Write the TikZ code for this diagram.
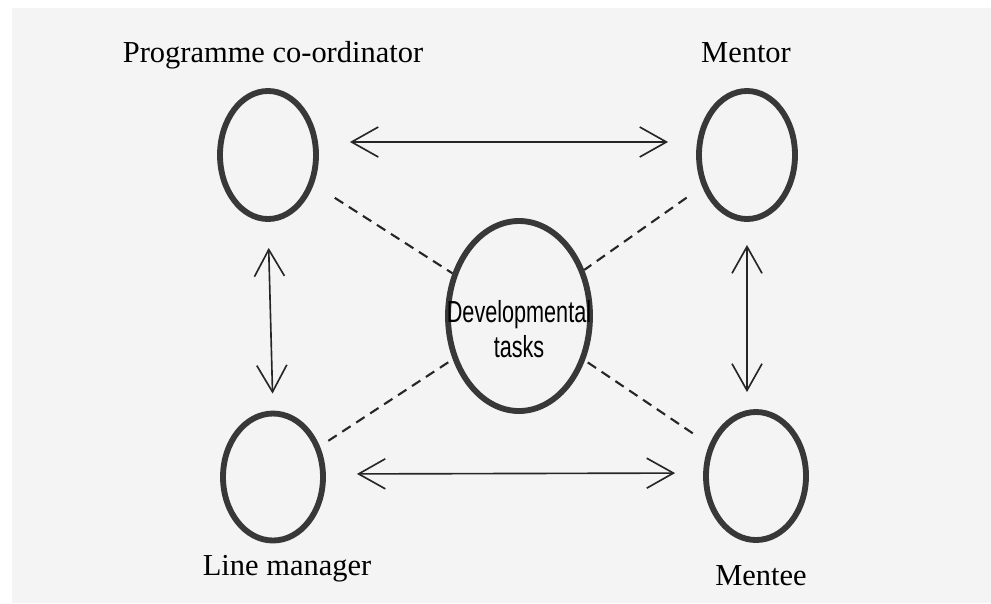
\documentclass[tikz,border=0pt]{standalone}
\usepackage{fontspec}
\setmainfont{Liberation Serif}
\newfontfamily\devfont{Liberation Sans}
\usetikzlibrary{arrows.meta,shapes.geometric}
\definecolor{ink}{HTML}{383838}
\definecolor{page}{HTML}{F4F4F4}
\begin{document}
\begin{tikzpicture}[x=0.03cm,y=-0.03cm,
  role/.style={draw=ink, line width=5pt, ellipse, inner sep=0pt},
  lbl/.style={anchor=base, font=\fontsize{26}{30}\selectfont, text=black, inner sep=0pt},
  devtxt/.style={align=center, font=\devfont\fontsize{26}{30}\selectfont, text=black, inner sep=0pt},
  rel/.style={draw=black!85, line width=1.4pt,
    {Straight Barb[length=0.8cm,width=0.9cm]}-{Straight Barb[length=0.8cm,width=0.9cm]}},
  link/.style={draw=black!85, line width=1.8pt, dash pattern=on 0.3cm off 0.2cm}]
\useasboundingbox (0,0) rectangle (991,603);
\fill[white] (0,0) rectangle (991,603);
\fill[page] (12,8) rectangle (991,603);

% circles
\node[role, minimum width=2.88cm, minimum height=3.84cm] (pc) at (268,155) {};
\node[role, minimum width=2.88cm, minimum height=3.84cm] (mentor) at (747,155) {};
\node[role, minimum width=3.0cm, minimum height=3.81cm] (lm) at (273,477) {};
\node[role, minimum width=3.0cm, minimum height=3.84cm] (mentee) at (756,476) {};
\node[role, minimum width=4.26cm, minimum height=5.70cm] (dev) at (519,316) {};
\node[devtxt] (devlbl) at ([yshift=-0.39cm]dev.center)
  {\scalebox{0.71}[1]{Developmental}\\\scalebox{0.71}[1]{tasks}};

% labels
\node[lbl] (pclbl) at (273,62) {Programme co-ordinator};
\node[lbl] (mentorlbl) at (746,62) {Mentor};
\node[lbl] (lmlbl) at (287,575) {Line manager};
\node[lbl] (menteelbl) at (761,585) {Mentee};

% two-way arrows
\draw[rel, shorten <=0.93cm, shorten >=0.84cm]
  ([yshift=0.39cm]pc.east) -- ([yshift=0.39cm]mentor.west);
\draw[rel, shorten <=0.93cm, shorten >=0.84cm]
  ([yshift=0.09cm]lm.east) -- ([yshift=0.09cm]mentee.west);
\draw[rel, shorten <=0.78cm, shorten >=0.51cm] (pc.south) -- (lm.north);
\draw[rel, shorten <=0.69cm, shorten >=0.51cm] (mentor.south) -- (mentor.south |- mentee.north);

% dashed links
\draw[link, shorten <=0.75cm] (pc) -- (dev);
\draw[link, shorten <=0.57cm] (mentor) -- (dev);
\draw[link, shorten <=0.30cm] (lm) -- (dev);
\draw[link, shorten <=0.60cm] (mentee) -- (dev);
\end{tikzpicture}
\end{document}
